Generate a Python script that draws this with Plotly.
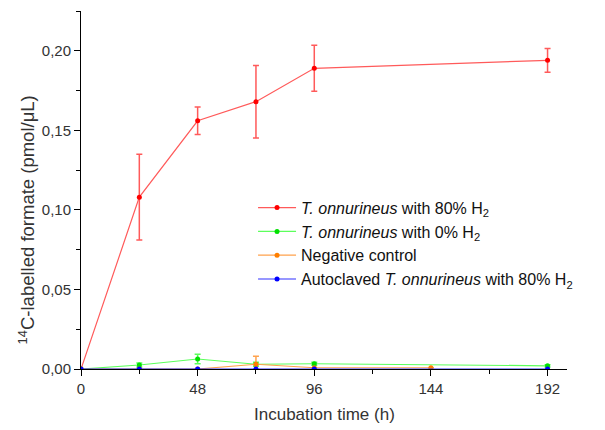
import plotly.graph_objects as go

# Data
time_red = [0, 24, 48, 72, 96, 192]
red_vals = [0.0, 0.108, 0.156, 0.168, 0.189, 0.194]
red_err = [0.0, 0.027, 0.0086, 0.0228, 0.0145, 0.0075]

time_green = [0, 24, 48, 72, 96, 192]
green_vals = [0.0, 0.0025, 0.0063, 0.0030, 0.0033, 0.0020]
green_err = [0.0, 0.0013, 0.0030, 0.0012, 0.0010, 0.0007]

time_orange = [0, 24, 48, 72, 96, 144]
orange_vals = [0.0, 0.0, 0.0, 0.0030, 0.0008, 0.0008]
orange_err = [0.0, 0.0, 0.0, 0.0050, 0.0, 0.0]

time_blue = [0, 24, 48, 72, 96, 192]
blue_vals = [0.0, 0.0, 0.0, 0.0, 0.0, 0.0]

names = [
    "<i>T. onnurineus</i> with 80% H<sub>2</sub>",
    "<i>T. onnurineus</i> with 0% H<sub>2</sub>",
    "Negative control",
    "Autoclaved <i>T. onnurineus</i> with 80% H<sub>2</sub>",
]

x_ticks = [0, 48, 96, 144, 192]
y_ticks = [0.0, 0.05, 0.10, 0.15, 0.20]
y_ticklabels = ["0,00", "0,05", "0,10", "0,15", "0,20"]

FONT = "Liberation Sans, Arial, sans-serif"

fig = go.Figure()

def add(x, y, err, name, line_col, mk_col):
    fig.add_trace(go.Scatter(
        x=x, y=y, name=name, mode="lines+markers",
        line=dict(color=line_col, width=1.2),
        marker=dict(color=mk_col, size=5, symbol="circle"),
        error_y=(dict(type="data", array=err, visible=True, color=line_col,
                      thickness=1.5, width=3) if err is not None else None),
    ))

add(time_red, red_vals, red_err, names[0], "#ff5a5a", "#ff0000")
add(time_green, green_vals, green_err, names[1], "#5cff5c", "#00e000")
add(time_orange, orange_vals, orange_err, names[2], "#ffa24d", "#ff7f00")
add(time_blue, blue_vals, None, names[3], "#3030ff", "#0000ff")

fig.update_layout(
    width=605, height=430,
    margin=dict(l=73, r=46, t=3, b=69),
    paper_bgcolor="white", plot_bgcolor="white",
    font=dict(family=FONT, size=15, color="#333"),
    showlegend=True,
    legend=dict(x=0.354, y=0.498, xanchor="left", yanchor="top",
                bgcolor="rgba(0,0,0,0)", font=dict(size=16, color="#111"),
                tracegroupgap=0, itemwidth=38),
    xaxis=dict(
        range=[0, 200], tickvals=x_ticks, showgrid=False, zeroline=False,
        showline=True, linecolor="black", linewidth=1,
        ticks="outside", ticklen=6, tickcolor="black",
        minor=dict(tickvals=[24, 72, 120, 168], ticks="outside", ticklen=4, tickcolor="black"),
        tickfont=dict(size=15),
    ),
    yaxis=dict(
        range=[0, 0.225], tickvals=y_ticks, ticktext=y_ticklabels, showgrid=False,
        zeroline=False, showline=True, linecolor="black", linewidth=1,
        ticks="outside", ticklen=6, tickcolor="black",
        minor=dict(tickvals=[0.025, 0.075, 0.125, 0.175, 0.225], ticks="outside", ticklen=4, tickcolor="black"),
        tickfont=dict(size=15),
    ),
    annotations=[
        dict(text="Incubation time (h)", xref="paper", yref="paper", x=0.5, y=0,
             xanchor="center", yanchor="middle", yshift=-45, showarrow=False,
             font=dict(size=17, color="#333")),
        dict(text="<sup>14</sup>C-labelled formate (pmol/μL)", xref="paper", yref="paper",
             x=0, y=0.415, xshift=-54, xanchor="center", yanchor="middle", textangle=-90,
             showarrow=False, font=dict(size=18.5, color="#333")),
    ],
)

fig.write_html("out.html")
